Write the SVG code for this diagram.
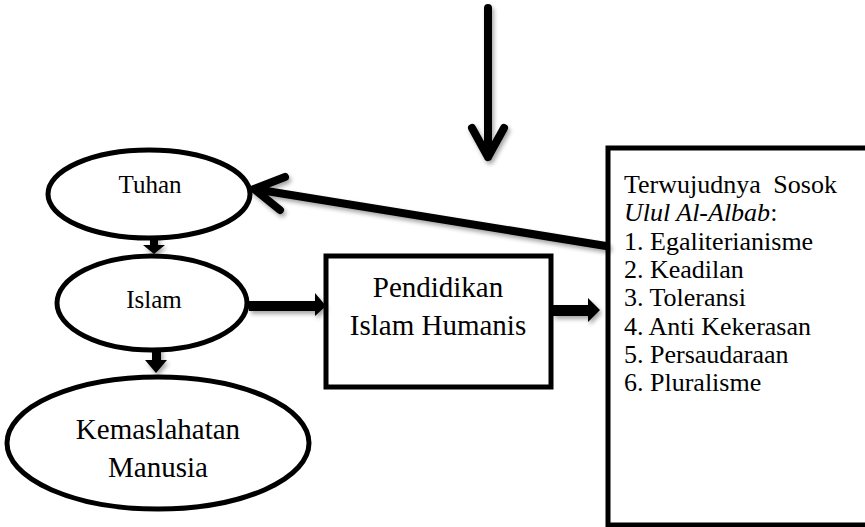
<svg xmlns="http://www.w3.org/2000/svg" width="865" height="527" viewBox="0 0 865 527">
<defs>
<style>
.shape{fill:#fff;stroke:#000;stroke-width:5}
.t{font-family:"Liberation Serif","Times New Roman",serif;fill:#000}
.line{fill:none;stroke:#000;stroke-width:8;stroke-linecap:round;stroke-linejoin:round}
.fat{fill:#000;stroke:none}
</style>
<filter id="sh" x="-20%" y="-20%" width="140%" height="140%">
<feDropShadow dx="2" dy="3" stdDeviation="2" flood-color="#000" flood-opacity="0.35"/>
</filter>
</defs>
<rect width="865" height="527" fill="#fff"/>

<g id="tuhan">
<ellipse class="shape" cx="149" cy="194" rx="101" ry="44"/>
<text class="t" x="150" y="193" font-size="25" text-anchor="middle">Tuhan</text>
</g>
<g id="islam">
<ellipse class="shape" cx="152" cy="303" rx="95" ry="47"/>
<text class="t" x="154" y="308" font-size="25" text-anchor="middle">Islam</text>
</g>
<g id="kemaslahatan">
<ellipse class="shape" cx="158" cy="443" rx="151" ry="66"/>
<text class="t" x="158" y="439" font-size="29" text-anchor="middle">Kemaslahatan</text>
<text class="t" x="158" y="477" font-size="29" text-anchor="middle">Manusia</text>
</g>
<g id="pendidikan">
<rect class="shape" x="326" y="256" width="225" height="131"/>
<text class="t" x="438" y="297" font-size="29" text-anchor="middle">Pendidikan</text>
<text class="t" x="438" y="335" font-size="29" text-anchor="middle">Islam Humanis</text>
</g>
<g id="ulul-albab">
<rect class="shape" x="608" y="148" width="270" height="377"/>
<text class="t" font-size="26">
<tspan x="624" y="193" word-spacing="6">Terwujudnya Sosok</tspan>
<tspan x="624" y="221.3"><tspan font-style="italic">Ulul Al-Albab</tspan>:</tspan>
<tspan x="624" y="249.6">1. Egaliterianisme</tspan>
<tspan x="624" y="277.9">2. Keadilan</tspan>
<tspan x="624" y="306.2">3. Toleransi</tspan>
<tspan x="624" y="334.5">4. Anti Kekerasan</tspan>
<tspan x="624" y="362.8">5. Persaudaraan</tspan>
<tspan x="624" y="391.1">6. Pluralisme</tspan>
</text>
</g>

<g id="connectors" filter="url(#sh)">
<path class="line" d="M488 8 V157 M472 128 L488 157 L504 128"/>
<path class="line" d="M606 246 L254 189 M285 177 L254 189 L280 210"/>
<path class="fat" d="M150 236 H158 V245 H165 L154 254 L143 245 H150 Z"/>
<path class="fat" d="M152 348 H161 V360 H167 L156 373 L145 360 H152 Z"/>
<path class="fat" d="M249 301 H315 V293 L326 306 L315 316 V311 H249 Z"/>
<path class="fat" d="M553 305 H588 V298 L600 310 L588 322 V316 H553 Z"/>
</g>
</svg>
